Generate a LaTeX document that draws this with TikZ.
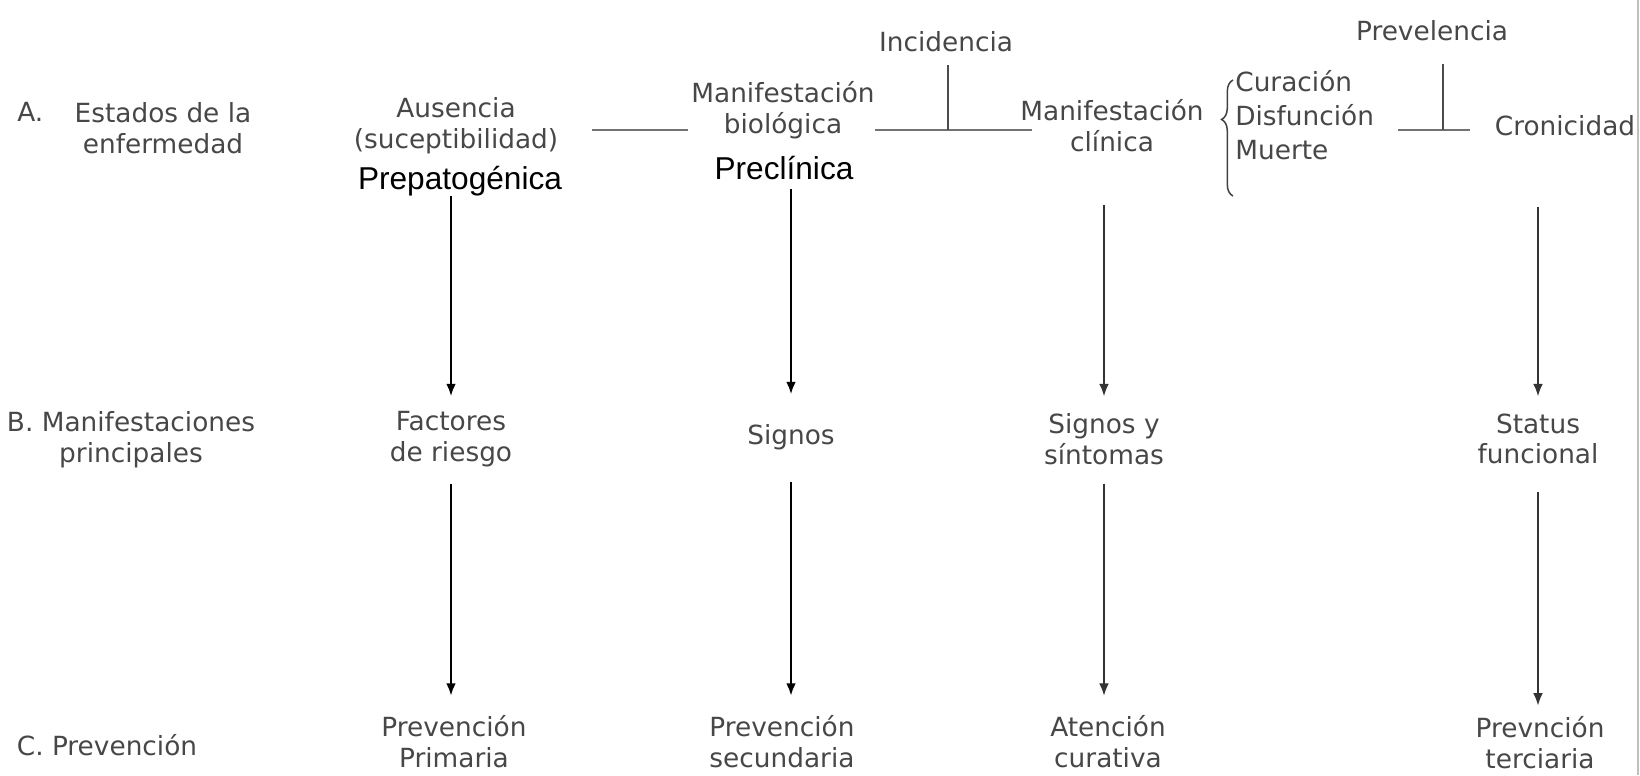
\documentclass[tikz,border=0pt]{standalone}
\usepackage{fontspec}
\setmainfont{Liberation Sans}
\newfontfamily\grayfont{DejaVu Sans}
\usetikzlibrary{arrows.meta,decorations.pathreplacing}
\begin{document}
\begin{tikzpicture}[x=0.02cm,y=-0.02cm,
  txt/.style={inner sep=0pt,align=center,text=black!72,font=\grayfont\fontsize{15}{17.5}\selectfont},
  lbl/.style={txt,minimum height=32.4pt},
  big/.style={inner sep=0pt,text=black,font=\fontsize{18}{22}\selectfont},
  hline/.style={draw=black!55,line width=1.1pt},
  tee/.style={draw=black!70,line width=0.9pt},
  arr/.style={-{Latex[length=7pt,width=5.5pt]},line width=1.1pt,shorten >=8pt},
  thinarr/.style={arr,line width=0.7pt,draw=black!80,fill=black!80}]
\useasboundingbox (0,0) rectangle (1640,775);
\draw[black!25,line width=0.6pt] (1638,0) -- (1638,775);

% A. Estados de la enfermedad
\node[txt,anchor=west] (lA) at (17,112) {A.};
\node[txt] (estados) at (163,128) {Estados de la\\enfermedad};
\node[txt] (ausencia) at (456,126) {Ausencia\\(suceptibilidad)};
\node[big] (prepat) at (460,181) {Prepatogénica};
\node[txt] (biol) at (783,110) {Manifestación\\biológica};
\node[big] (precl) at (784,168) {Preclínica};
\node[txt] (incid) at (946,42) {Incidencia};
\node[txt] (clinica) at (1112,126) {Manifestación\\clínica};
\node[txt,anchor=west,align=left,font=\grayfont\fontsize{15}{19.5}\selectfont] (desenlace) at (1235,115) {Curación\\Disfunción\\Muerte};
\node[txt] (prevel) at (1432,31) {Prevelencia};
\node[txt] (cron) at (1565,126) {Cronicidad};

\coordinate (h1a) at (592,130);
\coordinate (h1b) at (688,130);
\coordinate (h2a) at (875,130);
\coordinate (h2b) at (1032,130);
\coordinate (tee1) at (948,130);
\coordinate (h3a) at (1398,130);
\coordinate (h3b) at (1470,130);
\coordinate (tee2) at (1443,130);
\draw[hline] (h1a) -- (h1b);
\draw[hline] (h2a) -- (h2b);
\draw[hline] (h3a) -- (h3b);
\draw[tee,shorten >=7pt] (tee1) -- (tee1 |- incid.south);
\draw[tee,shorten >=13pt] (tee2) -- (tee2 |- prevel.south);
\draw[draw=black!75,line width=0.85pt,decorate,decoration={brace,amplitude=6.5pt,aspect=0.66}]
  (1233,196) -- (1233,80);

% B. Manifestaciones principales
\node[txt] (lB) at (131,440) {B. Manifestaciones\\principales};
\node[lbl] (factores) at (451,439) {Factores\\de riesgo};
\node[lbl] (signos) at (791,437) {Signos};
\node[lbl] (sintomas) at (1104,439) {Signos y\\síntomas};
\node[lbl] (status) at (1538,439) {Status\\funcional};

% C. Prevencion
\node[txt] (lC) at (107,745) {C. Prevención};
\node[lbl] (prim) at (454,742) {Prevención\\Primaria};
\node[lbl] (sec) at (782,742) {Prevención\\secundaria};
\node[lbl] (aten) at (1108,742) {Atención\\curativa};
\node[lbl] (terc) at (1540,743) {Prevnción\\terciaria};

\draw[arr] (prepat.south -| factores) -- (factores.north);
\draw[arr,shorten <=5pt] (precl.south -| signos) -- (signos.north);
\draw[thinarr,shorten <=30pt] (clinica.south -| sintomas) -- (sintomas.north);
\draw[thinarr,shorten <=40pt] (cron.south -| status) -- (status.north);

\draw[arr,shorten <=9pt,shorten >=10pt] (factores.south) -- (factores.south |- prim.north);
\draw[arr,shorten <=9pt,shorten >=10pt] (signos.south) -- (signos.south |- sec.north);
\draw[thinarr,shorten <=9pt,shorten >=10pt] (sintomas.south) -- (sintomas.south |- aten.north);
\draw[thinarr,shorten <=14pt,shorten >=5pt] (status.south) -- (status.south |- terc.north);
\end{tikzpicture}
\end{document}
